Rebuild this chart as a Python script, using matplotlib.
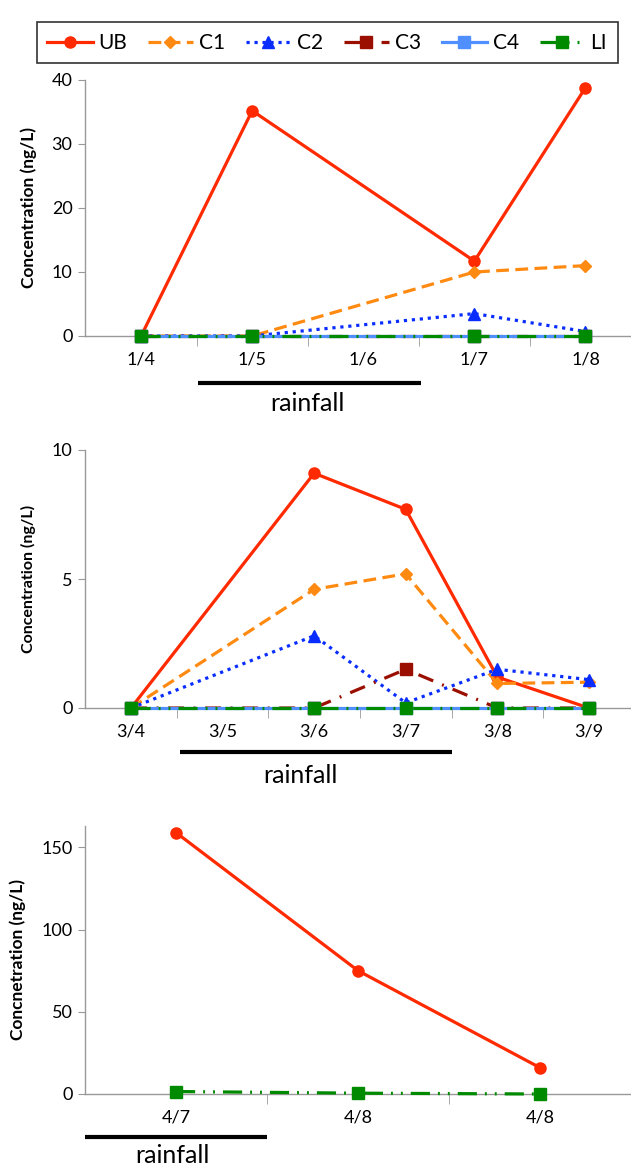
import numpy as np
import matplotlib
matplotlib.use("Agg")
import matplotlib.pyplot as plt
import matplotlib.transforms as mtransforms

plt.rcParams['font.family'] = ['Lato', 'DejaVu Sans']

# ---- data ----
series = ["UB", "C1", "C2", "C3", "C4", "LI"]

dates1 = ["1/4", "1/5", "1/6", "1/7", "1/8"]
pos1 = [0, 1, 3, 4]          # 1/6 has no sample
vals1 = {
    "UB": [0, 35.2, 11.7, 38.8],
    "C1": [0, 0, 10.0, 11.0],
    "C2": [0, 0, 3.5, 0.7],
    "C3": [0, 0, 0, 0],
    "C4": [0, 0, 0, 0],
    "LI": [0, 0, 0, 0],
}

dates2 = ["3/4", "3/5", "3/6", "3/7", "3/8", "3/9"]
pos2 = [0, 2, 3, 4, 5]       # 3/5 has no sample
vals2 = {
    "UB": [0, 9.1, 7.7, 1.2, 0],
    "C1": [0, 4.6, 5.2, 0.95, 1.0],
    "C2": [0, 2.8, 0.2, 1.5, 1.1],
    "C3": [0, 0, 1.5, 0, 0],
    "C4": [0, 0, 0, 0, 0],
    "LI": [0, 0, 0, 0, 0],
}

dates3 = ["4/7", "4/8", "4/8"]
pos3 = [0, 1, 2]
vals3 = {
    "UB": [159, 75, 16],
    "LI": [1.5, 0.5, 0],
}

# ---- styles ----
styles = {
    "UB": dict(color="#ff2a00", ls="-", marker="o", ms=8),
    "C1": dict(color="#ff8a12", ls=(0, (4, 2)), marker="D", ms=6),
    "C2": dict(color="#0a2dff", ls=(0, (1, 1.5)), marker="^", ms=8),
    "C3": dict(color="#9a0f00", ls=(0, (5, 3, 0.6, 3)), marker="s", ms=8),
    "C4": dict(color="#4f8fff", ls="-", marker="s", ms=8),
    "LI": dict(color="#008a00", ls=(0, (6, 2.5, 0.6, 2.5, 0.6, 2.5)), marker="s", ms=8),
}

W, H = 631, 1170
fig = plt.figure(figsize=(W / 100, H / 100), dpi=100)

def make_ax(left, top, bottom, right=631):
    return fig.add_axes([left / W, 1 - bottom / H, (right - left) / W, (bottom - top) / H])

def style_ax(ax, labels, xlim, ylim, yticks, ylabel, labx, labsize):
    ax.set_xlim(*xlim)
    ax.set_ylim(*ylim)
    ax.set_yticks(yticks)
    ax.set_xticks(range(len(labels)))
    ax.set_xticklabels(labels)
    ax.set_xticks(np.arange(0.5, len(labels) - 0.5, 1), minor=True)
    ax.tick_params(axis='x', which='major', length=0, pad=11, labelsize=13)
    ax.tick_params(axis='x', which='minor', length=7, color="#999999", direction='out')
    ax.tick_params(axis='y', length=5, color="#999999", labelsize=13, pad=4)
    for s in ["top", "right"]:
        ax.spines[s].set_visible(False)
    for s in ["left", "bottom"]:
        ax.spines[s].set_color("#999999")
        ax.spines[s].set_linewidth(1)
        ax.spines[s].set_zorder(1)
    ax.set_ylabel(ylabel, fontsize=labsize, fontweight="bold")
    ax.yaxis.set_label_coords(labx, 0.5)

def rain(ax, x0, x1, ybar, xt, yt):
    tr = mtransforms.blended_transform_factory(ax.transData, ax.transAxes)
    ax.plot([x0, x1], [ybar, ybar], color="black", lw=3, transform=tr, clip_on=False,
            solid_capstyle="butt")
    ax.text(xt, yt, "rainfall", transform=tr, ha="center", va="center", fontsize=18)

def draw(ax, pos, vals):
    handles = []
    for name in series:
        if name not in vals:
            continue
        st = styles[name]
        h, = ax.plot(pos, vals[name], color=st["color"], ls=st["ls"], lw=2.3,
                     marker=st["marker"], ms=st["ms"], mfc=st["color"], mec=st["color"],
                     label=name, clip_on=False, zorder=3)
        handles.append(h)
    return handles

# panel 1
ax1 = make_ax(85, 80, 336)
hs = draw(ax1, pos1, vals1)
style_ax(ax1, dates1, (-0.505, 4.41), (0, 40), [0, 10, 20, 30, 40],
         "Concentration (ng/L)", -0.088, 12.5)
rain(ax1, 0.51, 2.52, -0.184, 1.5, -0.262)

# panel 2
ax2 = make_ax(85, 450, 708)
draw(ax2, pos2, vals2)
style_ax(ax2, dates2, (-0.502, 5.46), (0, 10), [0, 5, 10],
         "Concentration (ng/L)", -0.09, 11.5)
rain(ax2, 0.53, 3.5, -0.17, 1.85, -0.26)

# panel 3
ax3 = make_ax(85, 826, 1094)
draw(ax3, pos3, vals3)
style_ax(ax3, dates3, (-0.5, 2.5), (0, 163), [0, 50, 100, 150],
         "Concnetration (ng/L)", -0.108, 12.5)
rain(ax3, -0.5, 0.5, -0.16, -0.02, -0.228)

leg = fig.legend(handles=hs, labels=series, ncol=6, loc="upper center",
                 bbox_to_anchor=(327 / W, 1 - 12 / H), frameon=True, fancybox=False,
                 fontsize=15, handlelength=2.2, handletextpad=0.25, columnspacing=1.0,
                 borderpad=0.5, edgecolor="black")
leg.get_frame().set_linewidth(1.2)

fig.savefig("out.png", dpi=100)
